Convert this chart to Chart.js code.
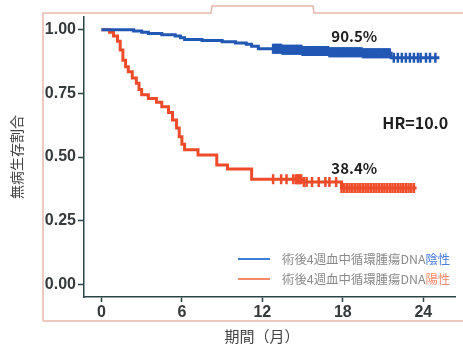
<!DOCTYPE html>
<html>
<head>
<meta charset="utf-8">
<script src="https://cdn.jsdelivr.net/npm/chart.js@4/dist/chart.umd.min.js"></script>
<style>
  body { margin: 0; background: #fff; }
  #wrap { width: 463px; height: 345px; }
</style>
</head>
<body>
<div id="wrap"><canvas id="chart" width="463" height="345"></canvas></div>
<script>
// Kaplan-Meier curves (months, survival proportion)
const negTimes = [0, 2.4, 3.0, 3.5, 4.5, 5.5, 5.9, 6.2, 7.5, 9.0, 10.0, 10.8, 11.2, 11.7, 13.5, 15.0, 17.0, 19.5, 21.6, 25.2];
const negSurv  = [1.0, 0.995, 0.99, 0.985, 0.98, 0.975, 0.968, 0.962, 0.958, 0.953, 0.948, 0.943, 0.935, 0.925, 0.921, 0.916, 0.912, 0.908, 0.89, 0.89];

const posTimes = [0, 0.6, 0.9, 1.2, 1.4, 1.6, 1.8, 2.0, 2.3, 2.6, 2.8, 3.0, 3.5, 4.1, 4.5, 5.0, 5.3, 5.6, 5.8, 6.0, 6.2, 7.2, 8.6, 9.4, 11.2, 15.0, 17.9, 23.5];
const posSurv  = [1.0, 0.99, 0.975, 0.955, 0.92, 0.88, 0.855, 0.835, 0.81, 0.79, 0.765, 0.745, 0.73, 0.715, 0.697, 0.675, 0.645, 0.614, 0.58, 0.55, 0.528, 0.508, 0.469, 0.453, 0.413, 0.402, 0.378, 0.378];

// censored observations (months)
const negCensor = [12.8, 12.9, 13.0, 13.1, 13.2, 13.3, 13.4, 13.5, 13.6, 13.7, 13.8, 13.9, 14.0, 14.1, 14.2, 14.3, 14.4, 14.5, 14.6,
  14.7, 14.8, 14.9, 15.0, 15.1, 15.2, 15.3, 15.4, 15.5, 15.6, 15.7, 15.8, 15.9, 16.0, 16.1, 16.2, 16.3, 16.4, 16.5, 16.6,
  16.7, 16.8, 16.9, 17.0, 17.1, 17.2, 17.3, 17.4, 17.5, 17.6, 17.7, 17.8, 17.9, 18.0, 18.1, 18.2, 18.3, 18.4, 18.5, 18.6,
  18.7, 18.8, 18.9, 19.0, 19.1, 19.2, 19.3, 19.4, 19.5, 19.6, 19.7, 19.8, 19.9, 20.0, 20.1, 20.2, 20.3, 20.4, 20.5, 20.6,
  20.7, 20.8, 20.9, 21.0, 21.1, 21.2, 21.3, 21.4, 21.5,
  21.8, 22.1, 22.4, 22.7, 23.0, 23.3, 23.6, 23.8, 24.2, 24.5, 24.9];
const posCensor = [12.8, 13.4, 13.8, 14.3, 14.5, 14.6, 14.7, 14.8, 14.9, 15.1, 15.3, 15.7, 16.2, 16.7, 17.0, 17.5, 17.9,
  18.1, 18.3, 18.5, 18.7, 18.9, 19.1, 19.3, 19.5, 19.7, 19.9, 20.1, 20.3, 20.5, 20.7, 20.9, 21.1, 21.3, 21.5, 21.7, 21.9,
  22.1, 22.3, 22.5, 22.7, 22.9, 23.1, 23.3];

const xTicks = [0, 6, 12, 18, 24];
const yTicks = [0, 0.25, 0.5, 0.75, 1.0];

const negLabel = "術後4週血中循環腫瘍DNA";
const negWord = "陰性";
const posWord = "陽性";

const blue = "#2257b4";
const red = "#ee4b2b";

// survival value at time t on a step curve
function survAt(times, surv, t) {
    let s = surv[0];
    for (let i = 0; i < times.length; i++) {
        if (times[i] <= t) s = surv[i];
    }
    return s;
}

function toPoints(times, surv) {
    return times.map((t, i) => ({ x: t, y: surv[i] }));
}

function censorPoints(cTimes, times, surv) {
    return cTimes.map((t) => ({ x: t, y: survAt(times, surv, t) }));
}

// frame, annotations and legend
const decorPlugin = {
    id: "decor",
    beforeDraw(chart) {
        const ctx = chart.ctx;
        ctx.save();
        ctx.strokeStyle = "#e6b8ac";
        ctx.lineWidth = 1.5;
        ctx.beginPath();
        ctx.moveTo(43, 321);
        ctx.lineTo(43, 13);
        ctx.lineTo(211, 13);
        ctx.lineTo(212, 6);
        ctx.lineTo(313, 6);
        ctx.lineTo(314, 13);
        ctx.lineTo(463, 13);
        ctx.moveTo(43, 321);
        ctx.lineTo(463, 321);
        ctx.stroke();
        ctx.restore();
    },
    afterDraw(chart) {
        const ctx = chart.ctx;
        const x = chart.scales.x;
        const y = chart.scales.y;
        ctx.save();

        // annotations
        ctx.fillStyle = "#1e1e1e";
        ctx.font = "bold 15px 'Noto Sans CJK JP', sans-serif";
        ctx.textAlign = "center";
        ctx.textBaseline = "middle";
        ctx.fillText("90.5%", x.getPixelForValue(18.85), y.getPixelForValue(0.975));
        ctx.fillText("38.4%", x.getPixelForValue(18.85), y.getPixelForValue(0.455));
        ctx.font = "bold 16px 'Noto Sans CJK JP', sans-serif";
        ctx.fillText("HR=10.0", x.getPixelForValue(23.4), y.getPixelForValue(0.635));

        // x axis title
        ctx.fillStyle = "#444";
        ctx.font = "15px 'Noto Sans CJK JP', sans-serif";
        ctx.fillText("期間（月）", 262, 336);

        // legend
        const rows = [
            { color: "#3b7fd9", word: negWord, wordColor: "#4a7be0", y: 259 },
            { color: "#f28a6a", word: posWord, wordColor: "#f28a6a", y: 279 },
        ];
        ctx.font = "12.4px 'Noto Sans CJK JP', sans-serif";
        ctx.textAlign = "left";
        rows.forEach((r) => {
            ctx.strokeStyle = r.color;
            ctx.lineWidth = 2;
            ctx.beginPath();
            ctx.moveTo(238, r.y);
            ctx.lineTo(270, r.y);
            ctx.stroke();
            ctx.fillStyle = "#8a8a8a";
            ctx.fillText(negLabel, 282, r.y);
            const w = ctx.measureText(negLabel).width;
            ctx.fillStyle = r.wordColor;
            ctx.fillText(r.word, 282 + w, r.y);
        });
        ctx.restore();
    },
};

const ctx = document.getElementById("chart").getContext("2d");
new Chart(ctx, {
    type: "line",
    data: {
        datasets: [
            {
                data: toPoints(negTimes, negSurv),
                borderColor: blue,
                borderWidth: 3,
                stepped: true,
                pointRadius: 0,
                fill: false,
            },
            {
                data: toPoints(posTimes, posSurv),
                borderColor: red,
                borderWidth: 3,
                stepped: true,
                pointRadius: 0,
                fill: false,
            },
            {
                type: "scatter",
                data: censorPoints(negCensor, negTimes, negSurv),
                borderColor: blue,
                pointStyle: "line",
                rotation: 90,
                pointRadius: 5,
                borderWidth: 2.5,
            },
            {
                type: "scatter",
                data: censorPoints(posCensor, posTimes, posSurv),
                borderColor: red,
                pointStyle: "line",
                rotation: 90,
                pointRadius: 5,
                borderWidth: 2.5,
            },
        ],
    },
    options: {
        responsive: false,
        animation: false,
        layout: { padding: { top: 17, left: 0, right: 0, bottom: 0 } },
        plugins: {
            legend: { display: false },
            tooltip: { enabled: false },
        },
        scales: {
            x: {
                type: "linear",
                min: -1.3,
                max: 26.4,
                afterFit: (scale) => { scale.height = 48; },
                afterBuildTicks: (scale) => { scale.ticks = xTicks.map((v) => ({ value: v })); },
                grid: { drawOnChartArea: false, tickLength: 5, tickColor: "#2c4448", tickWidth: 1.5 },
                border: { color: "#2c4448", width: 1.5 },
                ticks: {
                    color: "#34393b",
                    padding: 1,
                    font: { family: "'Liberation Sans', Arial, sans-serif", size: 16, weight: "bold" },
                },
            },
            y: {
                type: "linear",
                min: -0.05,
                max: 1.05,
                afterFit: (scale) => { scale.width = 84; },
                afterBuildTicks: (scale) => { scale.ticks = yTicks.map((v) => ({ value: v })); },
                grid: { drawOnChartArea: false, tickLength: 6, tickColor: "#2c4448", tickWidth: 1.5 },
                border: { color: "#2c4448", width: 1.5 },
                ticks: {
                    color: "#34393b",
                    padding: 2,
                    font: { family: "'Liberation Sans', Arial, sans-serif", size: 16, weight: "bold" },
                    callback: (v) => v.toFixed(2),
                },
                title: {
                    display: true,
                    text: "無病生存割合",
                    color: "#444",
                    padding: { top: 8, bottom: 0 },
                    font: { family: "'Noto Sans CJK JP', sans-serif", size: 14 },
                },
            },
        },
    },
    plugins: [decorPlugin],
});
</script>
</body>
</html>
